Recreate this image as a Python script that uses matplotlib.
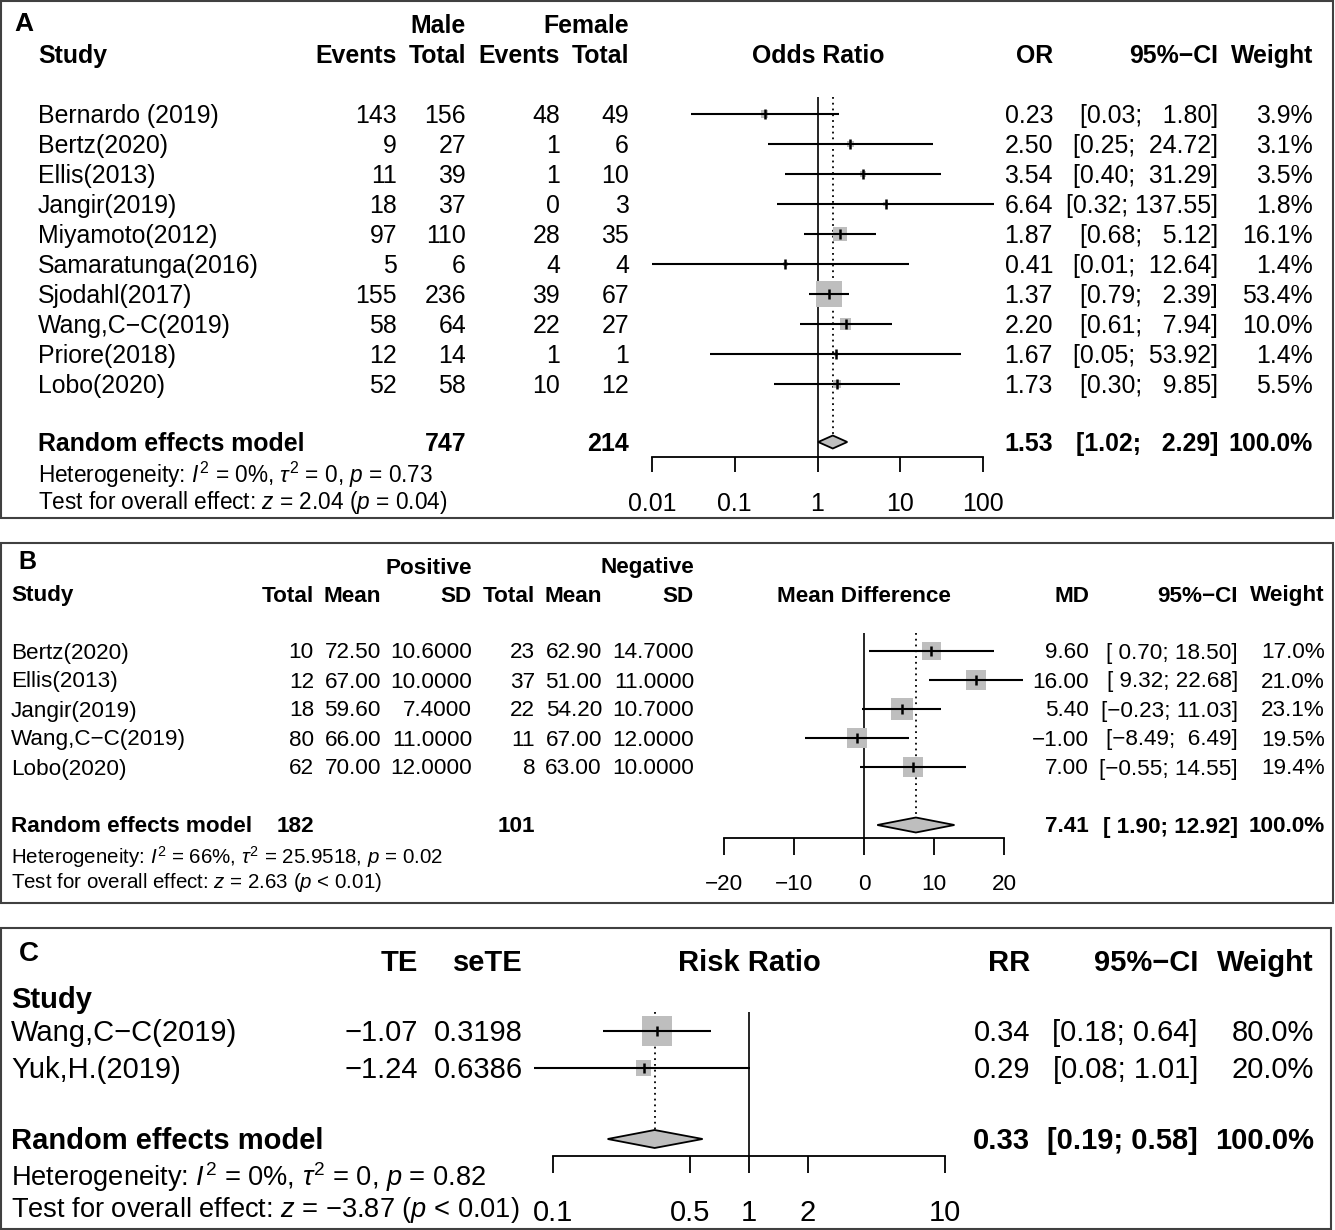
import matplotlib
matplotlib.use("Agg")
import matplotlib.pyplot as plt
from matplotlib.patches import Rectangle
from matplotlib.ticker import NullLocator

plt.rcParams['font.family'] = ['Liberation Sans', 'DejaVu Sans']
plt.rcParams['mathtext.fontset'] = 'custom'
plt.rcParams['mathtext.rm'] = 'Liberation Sans'
plt.rcParams['mathtext.it'] = 'Liberation Sans:italic'
plt.rcParams['mathtext.bf'] = 'Liberation Sans:bold'

# ---- panel A: odds ratio, male vs female
studies_a = ["Bernardo (2019)", "Bertz(2020)", "Ellis(2013)", "Jangir(2019)", "Miyamoto(2012)",
             "Samaratunga(2016)", "Sjodahl(2017)", "Wang,C\u2212C(2019)", "Priore(2018)", "Lobo(2020)"]
male_events = [143, 9, 11, 18, 97, 5, 155, 58, 12, 52]
male_total = [156, 27, 39, 37, 110, 6, 236, 64, 14, 58]
female_events = [48, 1, 1, 0, 28, 4, 39, 22, 1, 10]
female_total = [49, 6, 10, 3, 35, 4, 67, 27, 1, 12]
or_a = [0.23, 2.50, 3.54, 6.64, 1.87, 0.41, 1.37, 2.20, 1.67, 1.73]
lo_a = [0.03, 0.25, 0.40, 0.32, 0.68, 0.01, 0.79, 0.61, 0.05, 0.30]
hi_a = [1.80, 24.72, 31.29, 137.55, 5.12, 12.64, 2.39, 7.94, 53.92, 9.85]
w_a = [3.9, 3.1, 3.5, 1.8, 16.1, 1.4, 53.4, 10.0, 1.4, 5.5]
pool_a = (1.53, 1.02, 2.29)
sum_male, sum_female = 747, 214
het_a = "Heterogeneity: $I^2$ = 0%, $\\tau^2$ = 0, $p$ = 0.73"
test_a = "Test for overall effect: $z$ = 2.04 ($p$ = 0.04)"
ticks_a = [0.01, 0.1, 1, 10, 100]
ticklab_a = ["0.01", "0.1", "1", "10", "100"]

# ---- panel B: mean difference, positive vs negative
studies_b = ["Bertz(2020)", "Ellis(2013)", "Jangir(2019)", "Wang,C\u2212C(2019)", "Lobo(2020)"]
pos_total = [10, 12, 18, 80, 62]
pos_mean = [72.50, 67.00, 59.60, 66.00, 70.00]
pos_sd = [10.6, 10.0, 7.4, 11.0, 12.0]
neg_total = [23, 37, 22, 11, 8]
neg_mean = [62.90, 51.00, 54.20, 67.00, 63.00]
neg_sd = [14.7, 11.0, 10.7, 12.0, 10.0]
md_b = [9.60, 16.00, 5.40, -1.00, 7.00]
lo_b = [0.70, 9.32, -0.23, -8.49, -0.55]
hi_b = [18.50, 22.68, 11.03, 6.49, 14.55]
w_b = [17.0, 21.0, 23.1, 19.5, 19.4]
pool_b = (7.41, 1.90, 12.92)
sum_pos, sum_neg = 182, 101
het_b = "Heterogeneity: $I^2$ = 66%, $\\tau^2$ = 25.9518, $p$ = 0.02"
test_b = "Test for overall effect: $z$ = 2.63 ($p$ < 0.01)"
ticks_b = [-20, -10, 0, 10, 20]
ticklab_b = ["\u221220", "\u221210", "0", "10", "20"]

# ---- panel C: risk ratio
studies_c = ["Wang,C\u2212C(2019)", "Yuk,H.(2019)"]
te_c = [-1.07, -1.24]
sete_c = [0.3198, 0.6386]
rr_c = [0.34, 0.29]
lo_c = [0.18, 0.08]
hi_c = [0.64, 1.01]
w_c = [80.0, 20.0]
pool_c = (0.33, 0.19, 0.58)
het_c = "Heterogeneity: $I^2$ = 0%, $\\tau^2$ = 0, $p$ = 0.82"
test_c = "Test for overall effect: $z$ = \u22123.87 ($p$ < 0.01)"
ticks_c = [0.1, 0.5, 1, 2, 10]
ticklab_c = ["0.1", "0.5", "1", "2", "10"]

W, H = 1335, 1230
fig = plt.figure(figsize=(W / 100, H / 100), dpi=100)
bg = fig.add_axes([0, 0, 1, 1])
bg.set_xlim(0, W)
bg.set_ylim(H, 0)
bg.axis('off')

GRAY = '#bebebe'


def txt(x, y, s, size, ha='left', bold=False):
    bg.text(x, y + 2, s, fontsize=size, ha=ha, va='center',
            fontweight='bold' if bold else 'normal')


def num(v, fmt):
    return format(v, fmt).replace('-', '\u2212')


def ci_strings(los, his):
    # pad like R's format(): spaces up to the widest entry of each column
    ls = [num(v, '.2f') for v in los]
    hs = [num(v, '.2f') for v in his]
    nl = max(len(s) for s in ls)
    nh = max(len(s) for s in hs)
    return ["[" + l.rjust(nl) + "; " + h.rjust(nh) + "]" for l, h in zip(ls, hs)]


def forest_axes(x0, x1, y_top, y_axis, xlim, log, ticks, labels, fs, tlen, pad):
    ax = fig.add_axes([x0 / W, 1 - y_axis / H, (x1 - x0) / W, (y_axis - y_top) / H])
    if log:
        ax.set_xscale('log')
    ax.set_xlim(*xlim)
    ax.set_ylim(y_axis, y_top)
    for s in ['top', 'left', 'right']:
        ax.spines[s].set_visible(False)
    ax.spines['bottom'].set_linewidth(1.3)
    ax.set_yticks([])
    ax.set_xticks(ticks)
    ax.set_xticklabels(labels)
    ax.xaxis.set_minor_locator(NullLocator())
    ax.tick_params(axis='x', length=tlen, width=1.3, labelsize=fs, pad=pad, direction='out')
    ax.patch.set_visible(False)
    return ax


def draw_studies(ax, est, lo, hi, w, ys, smax, null, pool, y_pool, dh, top):
    ax.axvline(null, color='black', lw=1.2, zorder=1)
    ax.plot([pool[0], pool[0]], [top, y_pool - dh], color='black', lw=1.3,
            linestyle=(0, (1, 2.2)), zorder=1)
    wmax = max(w)
    ax.scatter(est, ys, s=[smax * v / wmax for v in w], marker='s', color=GRAY,
               linewidths=0, zorder=2, clip_on=False)
    ax.hlines(ys, lo, hi, color='black', lw=1.5, zorder=3, clip_on=False)
    ax.scatter(est, ys, s=42, marker='|', color='black', linewidths=1.8, zorder=4, clip_on=False)
    ax.fill([pool[1], pool[0], pool[2], pool[0]], [y_pool, y_pool - dh, y_pool, y_pool + dh],
            facecolor=GRAY, edgecolor='black', lw=1.3, zorder=3, clip_on=False)


for box in [(1, 1, 1332, 517), (1, 543, 1332, 360), (1, 928, 1330, 301)]:
    bg.add_patch(Rectangle(box[:2], box[2], box[3], fill=False, ec='#404040', lw=1.5))

# ================= panel A
fa, fha = 17.9, 16.3
rows_a = [114 + 30 * i for i in range(len(studies_a))]
txt(14, 22, "A", 19, bold=True)
txt(466, 24, "Male", fa, 'right', True)
txt(629, 24, "Female", fa, 'right', True)
for x, s, ha in [(38, "Study", 'left'), (397, "Events", 'right'), (466, "Total", 'right'),
                 (560, "Events", 'right'), (629, "Total", 'right'), (818, "Odds Ratio", 'center'),
                 (1053, "OR", 'right'), (1218, "95%\u2212CI", 'right'), (1313, "Weight", 'right')]:
    txt(x, 54, s, fa, ha, True)
ci_a = ci_strings(lo_a + [pool_a[1]], hi_a + [pool_a[2]])
for i, y in enumerate(rows_a):
    txt(38, y, studies_a[i], fa)
    txt(397, y, str(male_events[i]), fa, 'right')
    txt(466, y, str(male_total[i]), fa, 'right')
    txt(560, y, str(female_events[i]), fa, 'right')
    txt(629, y, str(female_total[i]), fa, 'right')
    txt(1053, y, num(or_a[i], '.2f'), fa, 'right')
    txt(1218, y, ci_a[i], fa, 'right')
    txt(1313, y, num(w_a[i], '.1f') + "%", fa, 'right')
yp_a = 442
txt(38, yp_a, "Random effects model", fa, bold=True)
txt(466, yp_a, str(sum_male), fa, 'right', True)
txt(629, yp_a, str(sum_female), fa, 'right', True)
txt(1053, yp_a, num(pool_a[0], '.2f'), fa, 'right', True)
txt(1218, yp_a, ci_a[-1], fa, 'right', True)
txt(1313, yp_a, "100.0%", fa, 'right', True)
txt(38, 473, het_a, fha)
txt(38, 500, test_a, fha)

ax_a = forest_axes(652, 983, 97, 457, (0.01, 100), True, ticks_a, ticklab_a, fa, 11, 14.5)
draw_studies(ax_a, or_a, lo_a, hi_a, w_a, rows_a, 350, 1, pool_a, yp_a, 6.5, 97)

# ================= panel B
fb, fhb = 16.2, 14.8
rows_b = [651 + 29 * i for i in range(len(studies_b))]
txt(18, 560, "B", 18, bold=True)
txt(472, 566, "Positive", fb, 'right', True)
txt(694, 566, "Negative", fb, 'right', True)
for x, s, ha in [(11, "Study", 'left'), (314, "Total", 'right'), (381, "Mean", 'right'),
                 (472, "SD", 'right'), (535, "Total", 'right'), (602, "Mean", 'right'),
                 (694, "SD", 'right'), (864, "Mean Difference", 'center'),
                 (1089, "MD", 'right'), (1238, "95%\u2212CI", 'right'), (1325, "Weight", 'right')]:
    txt(x, 594, s, fb, ha, True)
ci_b = ci_strings(lo_b + [pool_b[1]], hi_b + [pool_b[2]])
for i, y in enumerate(rows_b):
    txt(11, y, studies_b[i], fb)
    txt(314, y, str(pos_total[i]), fb, 'right')
    txt(381, y, num(pos_mean[i], '.2f'), fb, 'right')
    txt(472, y, num(pos_sd[i], '.4f'), fb, 'right')
    txt(535, y, str(neg_total[i]), fb, 'right')
    txt(602, y, num(neg_mean[i], '.2f'), fb, 'right')
    txt(694, y, num(neg_sd[i], '.4f'), fb, 'right')
    txt(1089, y, num(md_b[i], '.2f'), fb, 'right')
    txt(1238, y, ci_b[i], fb, 'right')
    txt(1325, y, num(w_b[i], '.1f') + "%", fb, 'right')
yp_b = 825
txt(11, yp_b, "Random effects model", fb, bold=True)
txt(314, yp_b, str(sum_pos), fb, 'right', True)
txt(535, yp_b, str(sum_neg), fb, 'right', True)
txt(1089, yp_b, num(pool_b[0], '.2f'), fb, 'right', True)
txt(1238, yp_b, ci_b[-1], fb, 'right', True)
txt(1325, yp_b, "100.0%", fb, 'right', True)
txt(11, 855, het_b, fhb)
txt(11, 881, test_b, fhb)

ax_b = forest_axes(724, 1004, 633, 838, (-20, 20), False, ticks_b, ticklab_b, fb, 12, 14)
draw_studies(ax_b, md_b, lo_b, hi_b, w_b, rows_b, 250, 0, pool_b, yp_b, 7.5, 633)

# ================= panel C
fc, fhc = 21.0, 19.6
rows_c = [1031 + 37 * i for i in range(len(studies_c))]
txt(19, 952, "C", 20, bold=True)
for x, s, ha in [(418, "TE", 'right'), (523, "seTE", 'right'), (749, "Risk Ratio", 'center'),
                 (1030, "RR", 'right'), (1198, "95%\u2212CI", 'right'), (1314, "Weight", 'right')]:
    txt(x, 961, s, fc, ha, True)
txt(11, 998, "Study", fc, bold=True)
ci_c = ci_strings(lo_c + [pool_c[1]], hi_c + [pool_c[2]])
for i, y in enumerate(rows_c):
    txt(11, y, studies_c[i], fc)
    txt(418, y, num(te_c[i], '.2f'), fc, 'right')
    txt(523, y, num(sete_c[i], '.4f'), fc, 'right')
    txt(1030, y, num(rr_c[i], '.2f'), fc, 'right')
    txt(1198, y, ci_c[i], fc, 'right')
    txt(1314, y, num(w_c[i], '.1f') + "%", fc, 'right')
yp_c = 1139
txt(11, yp_c, "Random effects model", fc, bold=True)
txt(1030, yp_c, num(pool_c[0], '.2f'), fc, 'right', True)
txt(1198, yp_c, ci_c[-1], fc, 'right', True)
txt(1314, yp_c, "100.0%", fc, 'right', True)
txt(11, 1175, het_c, fhc)
txt(11, 1208, test_c, fhc)

ax_c = forest_axes(553, 945, 1012, 1156, (0.1, 10), True, ticks_c, ticklab_c, fc, 12, 19)
draw_studies(ax_c, rr_c, lo_c, hi_c, w_c, rows_c, 470, 1, pool_c, yp_c, 9, 1012)

fig.savefig("out.png", dpi=100)
